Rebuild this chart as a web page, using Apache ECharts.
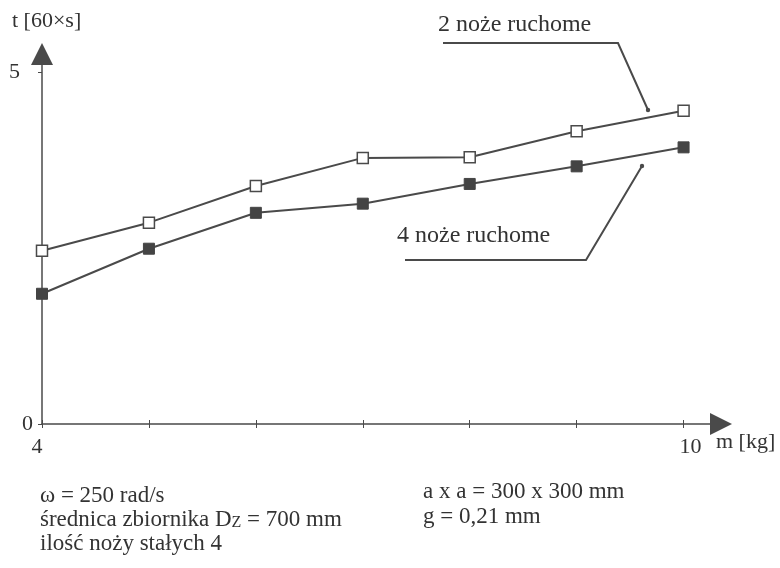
<!DOCTYPE html>
<html>
<head>
<meta charset="utf-8">
<script src="https://cdn.jsdelivr.net/npm/echarts@6/dist/echarts.min.js"></script>
<style>
  html, body { margin: 0; padding: 0; background: #fff; }
  #chart { width: 780px; height: 568px; }
</style>
</head>
<body>
<div id="chart"></div>
<script>
// masa m [kg]
var masses = [4, 5, 6, 7, 8, 9, 10]
// czas t [60xs]
var twoKnives = [2.46, 2.86, 3.38, 3.78, 3.79, 4.16, 4.45]
var fourKnives = [1.85, 2.49, 3.0, 3.13, 3.41, 3.66, 3.93]
var yTickValues = [0, 5]
var xLabelValues = [4, 10]

var ink = '#4a4a4a'
var text = '#333'
var serif = '"Liberation Serif", "DejaVu Serif", serif'

function pairs(xs, ys) {
    return xs.map(function (x, i) { return [x, ys[i]] })
}

var myChart = echarts.init(document.getElementById('chart'), null, { renderer: 'canvas' })

var baseX = {
    type: 'value',
    min: 4,
    max: 10.35,
    splitLine: { show: false },
}

var option = {
    animation: false,
    backgroundColor: '#fff',
    grid: { left: 42, right: 59, top: 54, bottom: 144 },
    xAxis: [
        Object.assign({}, baseX, {
            axisLine: {
                lineStyle: { color: ink, width: 1.5 },
                symbol: ['none', 'triangle'],
                symbolSize: [22, 22],
            },
            axisTick: { customValues: masses, length: 4, lineStyle: { color: ink } },
            axisLabel: {
                customValues: xLabelValues,
                margin: 12,
                color: text,
                fontFamily: serif,
                fontSize: 22,
                formatter: function (v) {
                    return v === 4 ? '{a|4}' : '{b|' + v + '}'
                },
                rich: {
                    a: { fontFamily: serif, fontSize: 22, color: text, padding: [0, 10, 0, 0] },
                    b: { fontFamily: serif, fontSize: 22, color: text, padding: [0, 0, 6, 14] },
                },
            },
        }),
        Object.assign({}, baseX, {
            position: 'bottom',
            axisLine: { show: false },
            axisTick: { customValues: masses, length: 4, inside: true, lineStyle: { color: ink } },
            axisLabel: { show: false },
        }),
    ],
    yAxis: [
        {
            type: 'value',
            min: 0,
            max: 5.256,
            splitLine: { show: false },
            axisLine: {
                show: true,
                lineStyle: { color: ink, width: 1.5 },
                symbol: ['none', 'triangle'],
                symbolSize: [22, 22],
            },
            axisTick: { show: true, customValues: yTickValues, length: 4, lineStyle: { color: ink } },
            axisLabel: {
                customValues: yTickValues,
                margin: 9,
                color: text,
                fontFamily: serif,
                fontSize: 22,
                formatter: function (v) {
                    return v === 5 ? '{f|5}' : '{z|0}'
                },
                rich: {
                    f: { fontFamily: serif, fontSize: 22, color: text, padding: [0, 13, 0, 0] },
                    z: { fontFamily: serif, fontSize: 22, color: text },
                },
            },
        },
    ],
    series: [
        {
            name: '2 noże ruchome',
            type: 'line',
            symbol: 'rect',
            symbolSize: 11,
            lineStyle: { color: ink, width: 2 },
            itemStyle: { color: '#fff', borderColor: ink, borderWidth: 1.5 },
            data: pairs(masses, twoKnives),
        },
        {
            name: '4 noże ruchome',
            type: 'line',
            symbol: 'rect',
            symbolSize: 11,
            lineStyle: { color: ink, width: 2 },
            itemStyle: { color: '#444', borderColor: '#444', borderWidth: 1 },
            data: pairs(masses, fourKnives),
        },
    ],
    graphic: [
        // opisy osi
        {
            type: 'text', left: 12, top: 10,
            style: { text: 't [60×s]', font: '22px ' + serif, fill: text },
        },
        {
            type: 'text', left: 716, top: 431,
            style: { text: 'm [kg]', font: '22px ' + serif, fill: text },
        },
        // 2 noże ruchome
        {
            type: 'text', left: 438, top: 13,
            style: { text: '2 noże ruchome', font: '24px ' + serif, fill: text },
        },
        {
            type: 'polyline',
            shape: { points: [[443, 43], [618, 43], [648, 110]] },
            style: { stroke: ink, lineWidth: 2, fill: null },
        },
        { type: 'circle', shape: { cx: 648, cy: 110, r: 2.2 }, style: { fill: ink } },
        // 4 noże ruchome
        {
            type: 'text', left: 397, top: 224,
            style: { text: '4 noże ruchome', font: '24px ' + serif, fill: text },
        },
        {
            type: 'polyline',
            shape: { points: [[405, 260], [586, 260], [642, 166]] },
            style: { stroke: ink, lineWidth: 2, fill: null },
        },
        { type: 'circle', shape: { cx: 642, cy: 166, r: 2.2 }, style: { fill: ink } },
        // parametry
        {
            type: 'text', left: 40, top: 484,
            style: {
                text: 'ω = 250 rad/s\nśrednica zbiornika {d|D}{z|Z} = 700 mm\nilość noży stałych 4',
                font: '23px ' + serif, fill: text, lineHeight: 24,
                rich: {
                    d: { fontFamily: serif, fontSize: 23, fill: text },
                    z: { fontFamily: serif, fontSize: 16, fill: text, padding: [5, 0, 0, 0] },
                },
            },
        },
        {
            type: 'text', left: 423, top: 479,
            style: {
                text: 'a x a = 300 x 300 mm\ng = 0,21 mm',
                font: '23px ' + serif, fill: text, lineHeight: 25,
            },
        },
    ],
}

myChart.setOption(option)
</script>
</body>
</html>
